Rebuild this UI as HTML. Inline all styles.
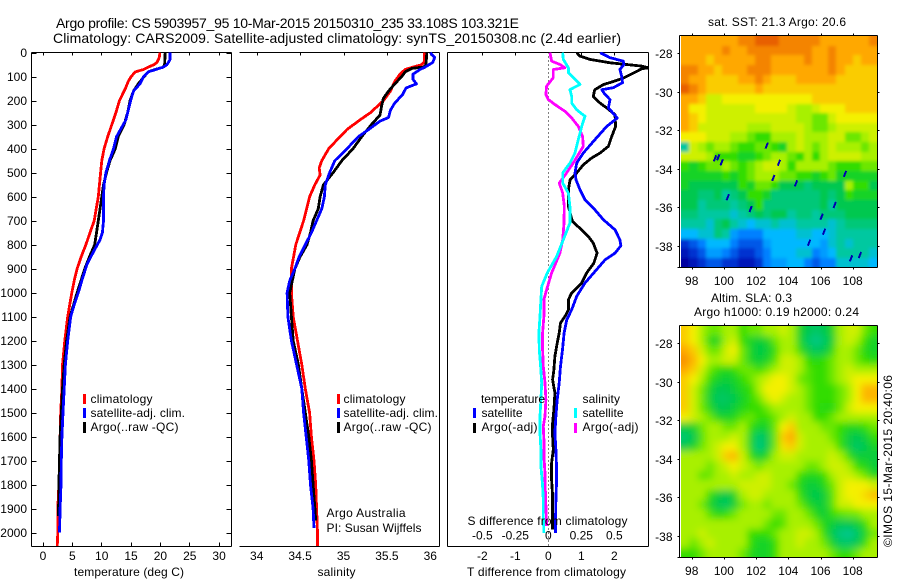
<!DOCTYPE html>
<html>
<head>
<meta charset="utf-8">
<title>Argo profile</title>
<style>
html,body{margin:0;padding:0;background:#fff;}
svg{display:block;}
text{font-family:"Liberation Sans",sans-serif;font-size:12px;fill:#000;}
.t{font-size:14px;}
</style>
</head>
<body>
<svg id="fig" width="900" height="580" viewBox="0 0 900 580" xmlns="http://www.w3.org/2000/svg">
<rect width="900" height="580" fill="#fff"/>
<defs>
<clipPath id="clipA"><rect x="32" y="52" width="200" height="494"/></clipPath>
<clipPath id="clipB"><rect x="239" y="52" width="200" height="494"/></clipPath>
<clipPath id="clipC"><rect x="447" y="52" width="201" height="494"/></clipPath>
<clipPath id="clipMapSst"><rect x="681" y="36" width="196" height="231"/></clipPath>
<clipPath id="clipMapSla"><rect x="681" y="326" width="196" height="231"/></clipPath>
<filter id="softSst" filterUnits="userSpaceOnUse" x="650" y="0" width="250" height="300"><feGaussianBlur stdDeviation="1.6"/></filter>
<filter id="softSla" filterUnits="userSpaceOnUse" x="650" y="290" width="250" height="290"><feGaussianBlur stdDeviation="3.6"/></filter>
</defs>
<text class="t" x="56" y="28" textLength="463">Argo profile: CS 5903957_95 10-Mar-2015 20150310_235 33.108S 103.321E</text>
<text class="t" x="53" y="43" textLength="568">Climatology: CARS2009. Satellite-adjusted climatology: synTS_20150308.nc (2.4d earlier)</text>

<g id="heatmaps"></g>
<g id="axes"></g>
<g id="series"></g>

<text x="74" y="576" textLength="110">temperature (deg C)</text>
<text x="317.5" y="576" textLength="38">salinity</text>
<text x="467.5" y="525" textLength="160">S difference from climatology</text>
<text x="467" y="576" textLength="159">T difference from climatology</text>

<g>
<rect x="83" y="394" width="3" height="10" fill="#f00"/>
<rect x="83" y="408" width="3" height="10" fill="#00f"/>
<rect x="83" y="422" width="3" height="11" fill="#000"/>
<text x="90.5" y="403" textLength="62">climatology</text>
<text x="90.5" y="417" textLength="94.5">satellite-adj. clim.</text>
<text x="90.5" y="431" textLength="88">Argo(..raw -QC)</text>
</g>
<g>
<rect x="337" y="394" width="3" height="10" fill="#f00"/>
<rect x="337" y="408" width="3" height="10" fill="#00f"/>
<rect x="337" y="422" width="3" height="11" fill="#000"/>
<text x="343.5" y="403" textLength="62">climatology</text>
<text x="343.5" y="417" textLength="94.5">satellite-adj. clim.</text>
<text x="343.5" y="431" textLength="88">Argo(..raw -QC)</text>
<text x="326.5" y="517" textLength="79">Argo Australia</text>
<text x="326.5" y="532" textLength="95">PI: Susan Wijffels</text>
</g>
<g>
<text x="481" y="403" textLength="64">temperature</text>
<rect x="473" y="408" width="3" height="10" fill="#00f"/>
<text x="481.5" y="417" textLength="41">satellite</text>
<rect x="473" y="423" width="3" height="10" fill="#000"/>
<text x="481.5" y="431" textLength="56">Argo(-adj)</text>
<text x="582.5" y="403" textLength="37.5">salinity</text>
<rect x="574" y="408" width="3" height="10" fill="#0ff"/>
<text x="582.5" y="417" textLength="41">satellite</text>
<rect x="574" y="423" width="3" height="10" fill="#f0f"/>
<text x="582.5" y="431" textLength="56">Argo(-adj)</text>
</g>

<text x="708" y="26" textLength="138">sat. SST: 21.3 Argo: 20.6</text>
<text x="711" y="302" textLength="81">Altim. SLA: 0.3</text>
<text x="694" y="316" textLength="165">Argo h1000: 0.19 h2000: 0.24</text>
<text transform="translate(892,547) rotate(-90)" textLength="172">©IMOS 15-Mar-2015 20:40:06</text>
</svg>

<script>
// ---- axis ticks ----
const depthTicks = [0,100,200,300,400,500,600,700,800,900,1000,1100,1200,1300,1400,1500,1600,1700,1800,1900,2000];
const tempTicks = [0,5,10,15,20,25,30];
const salinityTicks = [34,34.5,35,35.5,36];
const tDiffTicks = [-2,-1,0,1,2];
const sDiffTicks = [-0.5,-0.25,0,0.25,0.5];
const sDiffTickLabels = ['-0.5','-0.25','0','0.25','0.5'];
const lonTicks = [98,100,102,104,106,108];
const latTicks = [-28,-30,-32,-34,-36,-38];

// ---- temperature profile (deg C) ----
const tempClimDepth = [0,20,40,50,60,70,80,100,120,150,200,250,300,350,400,450,500,600,700,750,800,850,900,950,1000,1100,1200,1300,1400,1500,1600,1700,1800,1900,2000,2060];
const tempClimValues = [20.0,19.9,19.5,19.0,18.0,17.2,15.8,15.1,14.6,14.1,13.1,12.5,11.8,11.1,10.5,10.1,9.9,9.5,8.8,8.1,7.4,6.6,5.9,5.4,5.0,4.3,3.8,3.4,3.3,3.1,3.0,2.9,2.8,2.6,2.6,2.5];
const tempArgoDepth = [0,50,60,70,80,100,130,160,200,250,300,350,400,450,500,550,600,700,750,800,850,900,1000,1100,1200,1300,1400,1500,1600,1700,1800,1900,1930];
const tempArgoValues = [20.9,20.8,20.6,19.2,18.0,17.3,16.3,15.5,14.9,14.5,13.9,12.9,12.4,11.5,10.9,10.4,10.1,9.5,9.2,8.9,8.0,7.2,5.9,4.7,4.1,3.7,3.4,3.2,3.0,2.9,2.8,2.75,2.75];
const tempSatDepth = [0,30,50,60,80,100,130,160,200,250,280,350,400,450,500,550,600,700,750,780,820,880,950,1000,1050,1100,1200,1300,1400,1500,1600,1700,1800,1900,2000];
const tempSatValues = [21.7,21.7,21.2,20.6,18.0,17.2,16.6,15.5,15.0,14.5,14.2,12.6,12.1,11.4,10.8,10.5,10.4,10.4,10.2,9.8,8.9,7.6,6.7,6.1,5.4,4.8,4.3,3.9,3.7,3.5,3.3,3.2,3.15,3.0,2.9];

// ---- salinity profile ----
const salClimDepth = [0,40,50,60,70,90,120,160,200,250,280,320,350,400,450,480,510,550,600,700,800,900,1000,1100,1200,1300,1400,1500,1600,1700,1800,1900,2000,2060];
const salClimValues = [35.93,35.93,35.9,35.8,35.71,35.65,35.59,35.54,35.46,35.31,35.19,35.04,34.96,34.83,34.75,34.72,34.73,34.67,34.61,34.54,34.45,34.40,34.40,34.42,34.47,34.52,34.56,34.61,34.63,34.66,34.68,34.69,34.70,34.70];
const salArgoDepth = [0,50,60,65,80,100,130,160,190,220,260,300,350,400,450,500,550,600,650,700,750,800,850,900,1000,1100,1200,1300,1400,1500,1600,1700,1800,1900,1950];
const salArgoValues = [35.96,35.95,35.92,35.79,35.71,35.67,35.59,35.52,35.46,35.44,35.42,35.32,35.21,35.11,34.98,34.88,34.77,34.73,34.71,34.65,34.62,34.58,34.50,34.44,34.38,34.40,34.42,34.48,34.52,34.56,34.60,34.63,34.65,34.67,34.68];
const salSatDepth = [0,20,40,60,70,90,110,130,147,175,210,240,270,285,320,350,400,450,500,550,600,650,700,750,800,850,900,950,1000,1100,1200,1300,1400,1500,1600,1700,1800,1900,1980];
const salSatValues = [36.0,36.05,36.03,35.94,35.88,35.8,35.8,35.84,35.72,35.68,35.59,35.54,35.52,35.42,35.29,35.17,35.04,34.9,34.84,34.79,34.78,34.75,34.69,34.63,34.56,34.49,34.44,34.38,34.35,34.36,34.4,34.46,34.52,34.54,34.57,34.6,34.62,34.65,34.66];

// ---- differences from climatology ----
const tDiffSatDepth = [0,21,35,49,70,97,125,146,154,174,195,230,272,307,363,418,460,501,529,571,612,654,696,738,779,804,835,863,904,960,1015,1071,1112,1168,1237,1307,1376,1446,1515,1585,1654,1723,1793,1862,1932,2001];
const tDiffSatValues = [1.57,1.87,2.27,2.29,2.17,2.22,2.25,1.97,1.62,1.72,1.87,1.82,2.09,1.77,1.41,1.06,0.86,0.81,0.84,0.96,1.11,1.41,1.67,2.02,2.17,2.2,2.02,1.72,1.46,1.11,0.86,0.71,0.56,0.48,0.43,0.37,0.33,0.27,0.23,0.2,0.23,0.25,0.25,0.23,0.22,0.22];
const tDiffArgoDepth = [0,14,28,42,49,56,63,67,85,106,120,133,154,182,210,230,258,307,349,390,418,439,467,501,529,571,640,703,738,765,793,835,877,918,960,1001,1029,1071,1098,1126,1168,1210,1265,1321,1362,1418,1487,1543,1598,1654,1710,1779,1848,1918,1987];
const tDiffArgoValues = [0.86,0.96,1.26,1.87,2.37,2.83,3.03,2.83,2.58,2.27,1.97,1.67,1.41,1.36,1.57,1.77,2.02,2.04,1.92,1.82,1.57,1.31,1.06,0.86,0.66,0.61,0.61,0.73,1.01,1.21,1.36,1.48,1.38,1.16,1.01,0.71,0.61,0.61,0.51,0.37,0.33,0.27,0.2,0.17,0.13,0.2,0.17,0.13,0.13,0.15,0.1,0.1,0.13,0.13,0.13];
const sDiffSatDepth = [0,28,63,83,111,132,154,182,210,238,265,307,363,418,460,501,543,585,640,710,779,849,918,974,1029,1098,1168,1237,1307,1376,1446,1515,1585,1654,1723,1793,1862,1932,2001];
const sDiffSatValues = [0.109,0.114,0.152,0.152,0.202,0.24,0.164,0.177,0.177,0.215,0.278,0.253,0.227,0.202,0.164,0.109,0.109,0.152,0.164,0.164,0.114,0.063,-0.008,-0.05,-0.056,-0.063,-0.071,-0.068,-0.058,-0.05,-0.056,-0.063,-0.063,-0.056,-0.056,-0.045,-0.038,-0.038,-0.033];
const sDiffArgoDepth = [0,35,49,63,70,104,139,174,195,216,244,272,307,349,390,425,460,501,543,585,640,710,779,835,918,988,1029,1098,1168,1237,1307,1376,1446,1515,1557,1612,1682,1751,1820,1890,1973];
const sDiffArgoValues = [0.013,0.025,0.088,0.126,0.038,0.038,-0.013,-0.018,0,0.05,0.126,0.177,0.227,0.26,0.265,0.227,0.189,0.139,0.083,0.109,0.121,0.119,0.109,0.088,0.025,-0.013,-0.033,-0.033,-0.043,-0.043,-0.038,-0.025,-0.018,-0.025,-0.038,-0.033,-0.033,-0.025,-0.023,-0.018,-0.013];

// ---- map fields: estimated colour levels 0 (dark blue) .. 10 (deep orange), rows north to south ----
const sstLevels = [
[9,9,9,9,9,9,9,9.5,9.5,10,10,10,9.5,9.5,9.5,9.5,9.5,9,9,9,9,9,9,9.5],
[9,9,9,9,9,9.5,9,9,9.5,9.5,9.5,9.5,9.5,9.5,9.5,9.5,9,9,9.5,9,9,9,9,9],
[9,9,9,8.5,9,9,9,9,9,9.5,9.5,9,9,9,9,9.5,9,9,9.5,9,9,8.5,9,9],
[9.5,9.5,9,9,8.5,9,9,9,9.5,9.5,9.5,9,9,9,9,9,9,9,9.5,9,8.5,8.5,8.5,8.5],
[9.5,9,9,8.5,8.5,8.5,8.5,9,9,9.5,9,8.5,8.5,8.5,9,9,9,9,9,8.5,8.5,8.5,8.5,8.5],
[10,9.5,9,8.5,8.5,8.5,8.5,8.5,8.5,9,8.5,8.5,8.5,8.5,8.5,8.5,8.5,8.5,8.5,8.5,8.5,8.5,8.5,8.5],
[9,9,8.5,7.5,7.5,8,8,8,8,8,8,8,8,8,8,8,8.5,8.5,8.5,8.5,8.5,8.5,8.5,8.5],
[9,8,8,7.5,7.5,7.5,7.5,7.5,7.5,8,8,8,8,7.5,7,7,7.5,8,8,8,8.5,8.5,8.5,8.5],
[9,8.5,8,7.5,7.5,7.5,7.5,7.5,7.5,7.5,7.5,7.5,7.5,7.5,7,7,6.5,6.5,7.5,8,8,8,8,8],
[9,8.5,7.5,7.5,7.5,7.5,7.5,7.5,7,7,7,7.5,7.5,7.5,7.5,7,6.5,6.5,7,7.5,7.5,7.5,7.5,7.5],
[8,8,8,7.5,7.5,7.5,7,7,6.5,6,6,7,7,7,7.5,7,7,7,7.5,7.5,6.5,6.5,7,7.5],
[4,7.5,7,6.5,7,7,6.5,6,6,6.5,6.5,6,5.5,7,7.5,7,6.5,7,7.5,7,7,7,6.5,7],
[7.5,7.5,7.5,7,6,6,6,5.5,5.5,6,6.5,7,7,6.5,6,7,6,7,7.5,7.5,7.5,7.5,7,7],
[6,5.5,6,6.5,6.5,7,6.5,6,6.5,7,7.5,7.5,7,6,7,7,7,7,6.5,6,6,6,6.5,6.5],
[5.5,5.5,5.5,5.5,5.5,6,5.5,6,6.5,7,7,7,6.5,6.5,6,6,5.5,6,6.5,5.5,5.5,5.5,5.5,5.5],
[5.5,5,5,5,5,5,5,6,5.5,6.5,6.5,6,5,5,5,4.5,5,5,5,5,7,6,6,5],
[5,5,4.5,4.5,5,4,4.5,5,6,6,5.5,4.5,4.5,4.5,4.5,4.5,4.5,5,4.5,5,6,5.5,5.5,5.5],
[5,5,4,4.5,4.5,4.5,4,4.5,5,6,4.5,4.5,4.5,4.5,4.5,4.5,4.5,5,4,5,5,5,5,5],
[4.5,4.5,4,4,4,4,3.5,4,4.5,5,4.5,5,5,4,4.5,4.5,4,4.5,4.5,4.5,5,5,5,5],
[4,4,4,3.5,4.5,5,4,3.5,3,3.5,3.5,4,3.5,3.5,4,4,4,4,3.5,4,4.5,4.5,4.5,4.5],
[3,3,3.5,3.5,4.5,4,2.5,2,2,2,3,3,3,3,3.5,3.5,3,3,3.5,4,4,4,4,4],
[1,1.5,2,3,3,3,2,1.5,1.5,1.5,2.5,3,3,3,3,3,3,2.5,3.5,4,3.5,4,4,4],
[0.5,1,1.5,2.5,2.5,2,1.5,1,1,1.5,2,3,3,3,3.5,3.5,2,2.5,3,4,4,4,4,3.5],
[0,0.5,1,1.5,1.5,1,1,0.5,0.5,1,2,2.5,2.5,3,3,2,1.5,2,2,3.5,3.5,3.5,3.5,3]
];
const slaLevels = [
[8.5,8,7,6.5,6.5,7,7,6,6.5,6.5,7,7,7.5,7,5.5,5,4.7,5,5.5,7,7.5,7.5,6.5,6],
[8.5,8,7,5.7,5.5,7,7.5,6,5.5,5.3,5.5,6.5,7,7,5.5,4.7,4.3,4.7,5.3,7,7.5,7,6,5.5],
[9,8.5,7.5,6.5,6.5,7.5,8,6.5,5.5,5.1,5.3,6,7,7,6,5.2,4.8,5,5.8,7,7,6.5,5.7,5.5],
[9.3,8.8,8,7,7,7.5,7.5,6.5,5.5,5.3,5.5,6.3,7.5,7.5,7,6,5.8,6,6.5,7,7,6.5,6,5.8],
[9,8.5,7.5,6.5,6,5.7,6,6.5,6.5,6,6.5,7,7.5,7.5,7,6.3,6,6,6.5,7,7.5,7,7,7],
[8.5,8,7,6,5.5,5.3,5.5,6,6.5,7,7.5,8,8,7.5,6.5,6.3,6,6,6.5,7,7.5,8,8,8],
[8.5,7.5,6.5,5.5,5,5,5.3,5.7,6,7,8,8,8,7.5,7,6.5,6,6,6,6.5,7,8,8.8,8.8],
[8.5,7.5,6.5,5.3,4.8,4.8,5,5.5,6,6.5,7.5,8,7.5,7,7,6.5,6,6,6,6.5,7,8,8.8,8.8],
[8.5,7.5,6.5,5.7,5,5,5.3,5.7,6,6,6.5,7,7,7,7,6.5,6,5.8,5.8,6.5,7.5,8,8,8],
[8,7.5,7,6.5,5.7,5.5,5.7,6.3,6.5,6,6,6.5,7,7.5,7,7,6,6,6.5,7,7,7,7,7],
[5.2,5.5,6.5,7,7,6.5,6.5,7,6,5.5,5.5,6.5,8,8.5,7,7,7,6.5,6.5,6,5.7,5.7,6,6.5],
[4.6,5,6.3,7,7,7,7.5,7,5.5,4.6,5,6.5,8.5,9,7.5,7,7,7,6.5,6,5.2,5,5.3,6],
[5,5.5,6.5,7,7.5,8,8,7,5.5,4.4,5,6.5,8.2,8.5,7.5,7,7,7,7,6,5.2,4.7,5,5.5],
[7,7,7,7,7.5,8.5,8.8,7.5,6,5.3,5.7,7,7.5,7.5,7,7,7,7,7.5,7,6,5.3,5.3,5.2],
[7,7,7,6.5,7,7.5,8,7.5,7,6.5,7,7,7,7,7,6.5,6.5,7,7.5,7.5,7,6,5.7,5.3],
[7,7,6.3,6.5,7,7,7.5,7,7,7.5,7.5,7,7,7,6,5.7,5.7,6,7,7.5,7.5,7,6.5,5.7],
[7,7,7,7,7,7,7,7.5,7.5,7.5,7.5,7,7,6.5,5.7,5.3,5.3,5.7,6.5,7.5,8,8,8,7.5],
[7,7,7,6,5.3,5,5.5,7,7.5,7.5,7,7,7,7,6,5.3,5,5.3,6.3,7.5,8,8,8.3,8.7],
[7,7,6.5,5.5,5,4.8,5.3,6.5,7,7,6.5,7,7,7,6.5,5.7,5.3,5.3,6.3,7.5,7.5,8,8,8],
[7,7,7,6.3,5.7,6,6.5,7,7,7,7,6.5,6.5,7,7,6.5,5.7,5.3,6,6.3,6.5,6.5,7,7],
[7,7,7,7,7,7,7,7,7,7,6.5,6,6.3,7,7,7,6.5,5.7,5.3,5,5,5.3,6,7],
[7,7,7.5,7,7,7,7,7,6,6,6,6.5,7,7,7.5,7.5,7,6,5,4.4,4.2,4.7,5.5,6.5],
[7,6.5,7,7.5,7,7,7,7,6,5.5,5.5,6,7,7,7.5,7,7,6.5,5.5,4.8,4.7,5,6,7],
[6,6,6.5,7,7,7,7,6.5,5.7,5.5,5.5,6,7,7,7,7,7,7,6.5,6,6,6.5,7,7]
];
// cold filaments visible on the SST map
const sstStreakLons = [102.66,99.45,99.65,99.86,103.42,103.07,104.48,107.52,106.88,106.07,106.22,105.29,108.45,107.9,101.66,100.24];
const sstStreakLats = [-32.79,-33.45,-33.4,-33.66,-33.68,-34.47,-34.75,-34.26,-35.87,-36.48,-37.26,-37.83,-38.47,-38.64,-36.08,-35.47];
const levelColors = ['#0000a0','#0030d0','#0080ff','#00b8ff','#00c8a0','#00c850','#30dd00','#a8f000','#f4f000','#ffa800','#e86000'];

// ---- scales ----
const NS = 'http://www.w3.org/2000/svg';
const depthY = d => 52.7 + 0.24 * d;
const tempX = t => 42.5 + 5.87 * t;
const salX = s => 256.7 + 86.8 * (s - 34);
const tDiffX = t => 548.3 + 33 * t;
const sDiffX = s => 548.3 + 132 * s;
const lonX = lon => 691.7 + 16.1 * (lon - 98);
const latY = lat => 53.3 + 19.27 * (-28 - lat);

const axes = document.getElementById('axes');
const seriesGroup = document.getElementById('series');
const heatmaps = document.getElementById('heatmaps');

function make(parent, tag, props, content) {
  const el = document.createElementNS(NS, tag);
  for (const k in props) el.setAttribute(k, props[k]);
  if (content !== undefined) el.textContent = content;
  parent.appendChild(el);
  return el;
}
function hline(x1, x2, y) {
  const el = make(axes, 'line', {x1: x1, x2: x2, y1: y, y2: y, stroke: '#000', 'stroke-width': 1, 'shape-rendering': 'crispEdges'});
  
  
}
function vline(x, y1, y2) {
  const el = make(axes, 'line', {x1: x, x2: x, y1: y1, y2: y2, stroke: '#000', 'stroke-width': 1, 'shape-rendering': 'crispEdges'});
  
  
}
function label(str, x, y, anchor) {
  const el = make(axes, 'text', {x: x, y: y, 'text-anchor': anchor}, str);
  
  
}
function drawProfile(depths, values, xFn, color, clip, name) {
  const pts = depths.map((d, i) => xFn(values[i]).toFixed(1) + ',' + depthY(d).toFixed(1)).join(' ');
  const el = make(seriesGroup, 'polyline', {points: pts, fill: 'none', stroke: color, 'stroke-width': 2.8, 'stroke-linejoin': 'round', 'shape-rendering': 'crispEdges', 'clip-path': 'url(#' + clip + ')'});
  
  
}
function levelColor(v) {
  const i = Math.min(Math.floor(v), levelColors.length - 2);
  const f = v - i;
  const a = levelColors[i], b = levelColors[i + 1];
  const ch = p => Math.round(parseInt(a.substr(p, 2), 16) * (1 - f) + parseInt(b.substr(p, 2), 16) * f);
  return 'rgb(' + ch(1) + ',' + ch(3) + ',' + ch(5) + ')';
}
function drawMap(levels, offsetY, clipId, filterId, name) {
  const outer = make(heatmaps, 'g', {'clip-path': 'url(#' + clipId + ')'});
  
  
  const g = make(outer, 'g', {filter: 'url(#' + filterId + ')'});
  const lonLeft = 97.35, lonRight = 109.52, latTop = -27.1, latBottom = -39.12;
  const cols = levels[0].length, rows = levels.length;
  levels.forEach((row, r) => {
    row.forEach((v, c) => {
      // outermost cells run on past the frame so softening does not fade the map edge
      const x0 = Math.round(lonX(lonLeft + (lonRight - lonLeft) * c / cols)) - (c === 0 ? 14 : 0);
      const x1 = Math.round(lonX(lonLeft + (lonRight - lonLeft) * (c + 1) / cols)) + (c === cols - 1 ? 14 : 0);
      const y0 = Math.round(latY(latTop + (latBottom - latTop) * r / rows)) + offsetY - (r === 0 ? 14 : 0);
      const y1 = Math.round(latY(latTop + (latBottom - latTop) * (r + 1) / rows)) + offsetY + (r === rows - 1 ? 14 : 0);
      const cell = make(g, 'rect', {x: x0, y: y0, width: x1 - x0, height: y1 - y0, fill: levelColor(v), 'shape-rendering': 'crispEdges'});
      
      
    });
  });
  return outer;
}
function drawMapAxes(offsetY, lonTitleY) {
  const L = 679.5, R = 877.5, T = 35.5 + offsetY, B = 267.5 + offsetY;
  hline(L, R, T); hline(L, R, B); vline(L, T, B); vline(R, T, B);
  lonTicks.forEach(lon => {
    const x = Math.round(lonX(lon)) + 0.5;
    vline(x, T - 2, T);
    vline(x, B, B + 2);
    label(String(lon), lonX(lon), lonTitleY, 'middle');
  });
  latTicks.forEach(lat => {
    const y = Math.round(latY(lat)) + 0.5 + offsetY;
    hline(L - 2, L, y);
    hline(R, R + 2, y);
    label(String(lat), 672.5, y + 4.5, 'end');
  });
  hline(L - 2, L, B);
}

// ---- frames ----
const pTop = 52.5, pBot = 546.5;
hline(31.5, 231.5, pTop); hline(31.5, 231.5, pBot); vline(31.5, pTop, pBot); vline(231.5, pTop, pBot);
hline(239.5, 439.5, pTop); hline(239.5, 439.5, pBot); vline(439.5, pTop, pBot);
hline(447.5, 648.5, pTop); hline(447.5, 648.5, pBot); vline(447.5, pTop, pBot); vline(648.5, pTop, pBot);

depthTicks.forEach(d => {
  const y = Math.round(depthY(d)) + 0.5;
  hline(31.5, 36.5, y);
  hline(226.5, 231.5, y);
  label(String(d), 27, depthY(d) + 4.5, 'end');
});
tempTicks.forEach(t => {
  const x = Math.round(tempX(t)) + 0.5;
  vline(x, pTop, pTop + 3);
  vline(x, pBot - 4, pBot);
  label(String(t), tempX(t) + 0.5, 560, 'middle');
});
salinityTicks.forEach(s => {
  const x = Math.round(salX(s)) + 0.5;
  vline(x, pTop, pTop + 3);
  label(String(s), salX(s), 560, 'middle');
});
tDiffTicks.forEach(t => {
  const x = Math.round(tDiffX(t)) + 0.5;
  if (t !== 0) vline(x, pTop, pTop + 3);
  label(String(t), tDiffX(t), 560, 'middle');
});
sDiffTicks.forEach((s, i) => {
  label(sDiffTickLabels[i], sDiffX(s), 539.5, 'middle');
});
const zeroLine = make(axes, 'line', {x1: 548.5, x2: 548.5, y1: pTop, y2: pBot, stroke: '#000', 'stroke-width': 1, 'stroke-dasharray': '1 3', 'shape-rendering': 'crispEdges'});



// ---- series ----
drawProfile(tempClimDepth, tempClimValues, tempX, '#f00', 'clipA', 'temperature-climatology-line');
drawProfile(tempArgoDepth, tempArgoValues, tempX, '#000', 'clipA', 'temperature-argo-line');
drawProfile(tempSatDepth, tempSatValues, tempX, '#00f', 'clipA', 'temperature-satellite-line');
drawProfile(salClimDepth, salClimValues, salX, '#f00', 'clipB', 'salinity-climatology-line');
drawProfile(salArgoDepth, salArgoValues, salX, '#000', 'clipB', 'salinity-argo-line');
drawProfile(salSatDepth, salSatValues, salX, '#00f', 'clipB', 'salinity-satellite-line');
drawProfile(tDiffArgoDepth, tDiffArgoValues, tDiffX, '#000', 'clipC', 't-difference-argo-line');
drawProfile(tDiffSatDepth, tDiffSatValues, tDiffX, '#00f', 'clipC', 't-difference-satellite-line');
drawProfile(sDiffArgoDepth, sDiffArgoValues, sDiffX, '#f0f', 'clipC', 's-difference-argo-line');
drawProfile(sDiffSatDepth, sDiffSatValues, sDiffX, '#0ff', 'clipC', 's-difference-satellite-line');

// ---- maps ----
const sstGroup = drawMap(sstLevels, 0, 'clipMapSst', 'softSst', 'sst-heatmap');
drawMap(slaLevels, 290, 'clipMapSla', 'softSla', 'sla-heatmap');
sstStreakLons.forEach((lon, i) => {
  const x = lonX(lon), y = latY(sstStreakLats[i]);
  const streak = make(sstGroup, 'line', {x1: x - 1.2, y1: y + 3, x2: x + 1.2, y2: y - 3, stroke: '#0000b0', 'stroke-width': 2, 'shape-rendering': 'crispEdges'});
  
  
});
drawMapAxes(0, 285);
drawMapAxes(290, 575);
</script>
</body>
</html>
